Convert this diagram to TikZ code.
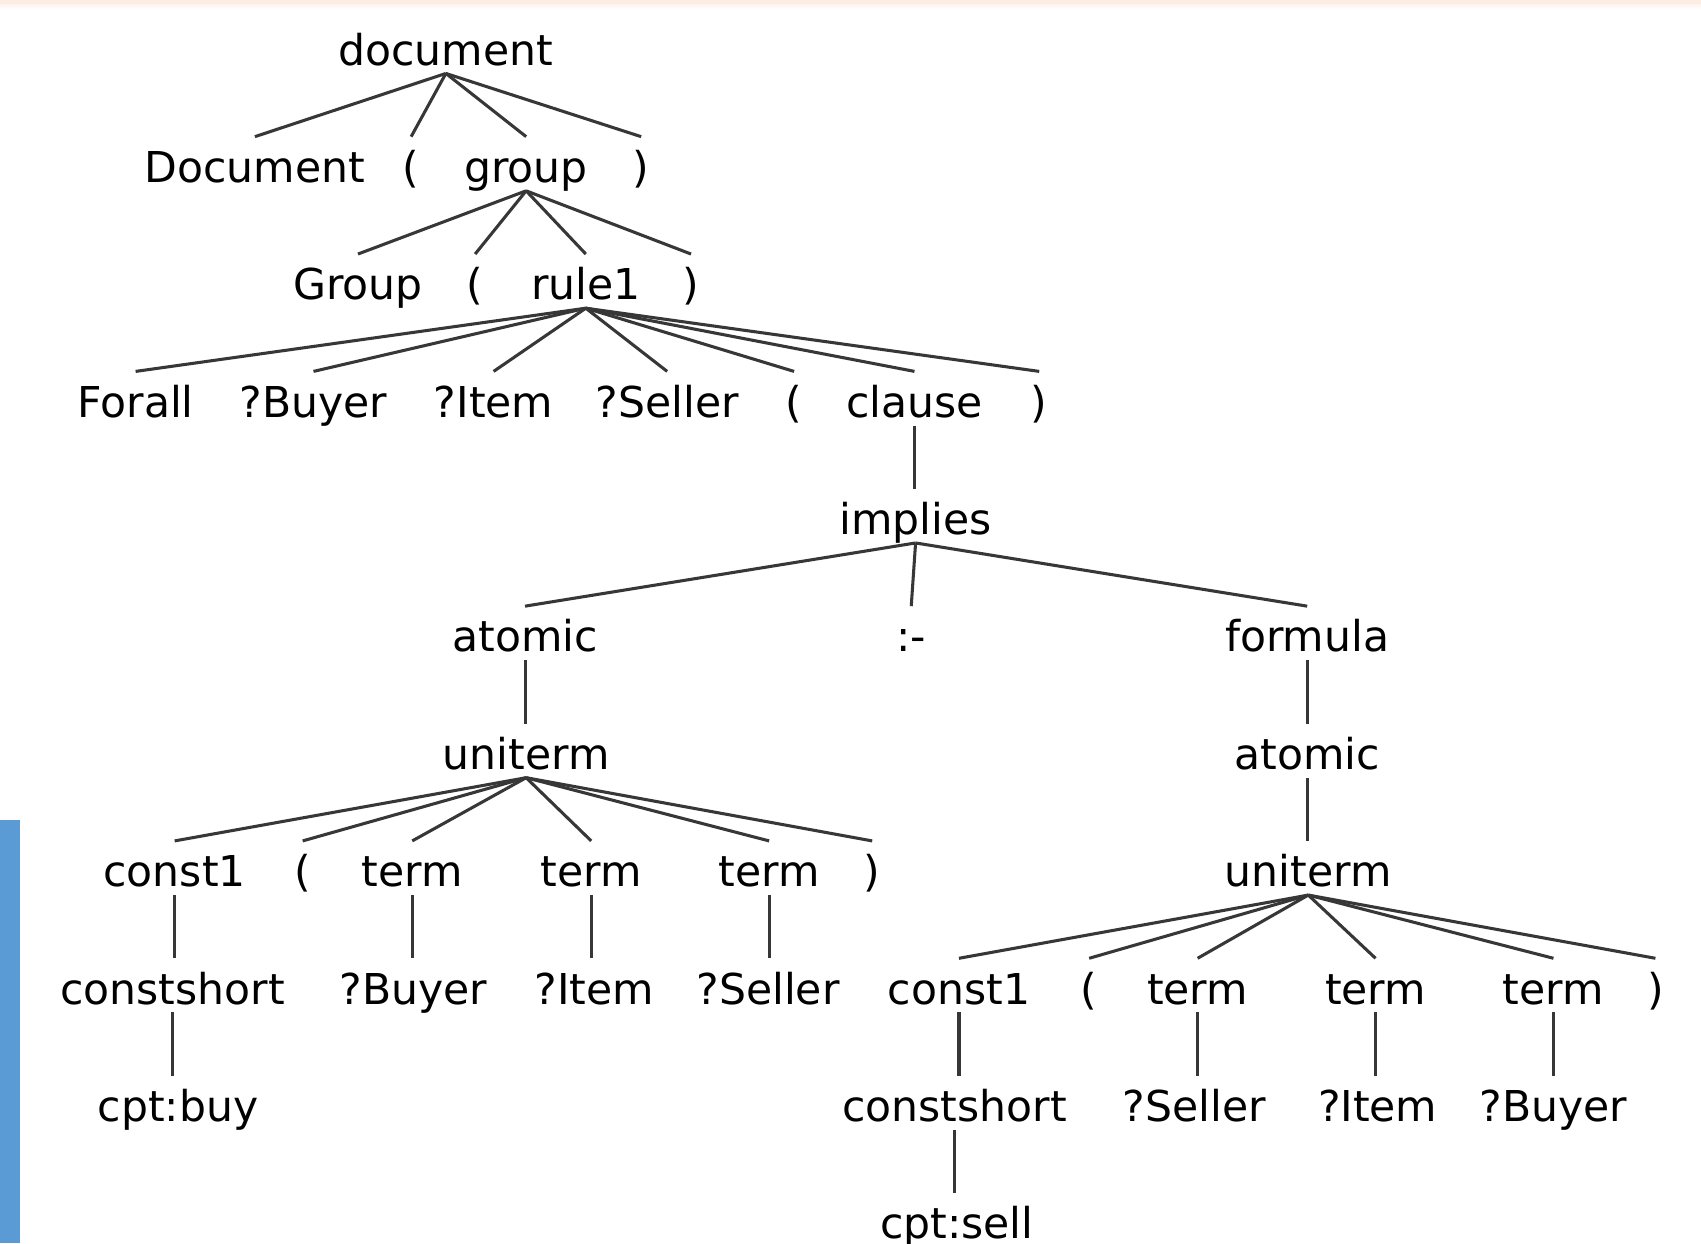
\documentclass[tikz,border=0pt]{standalone}
\usepackage{fontspec}
\setmainfont{DejaVu Sans}
\definecolor{edgegray}{RGB}{55,55,55}
\definecolor{barblue}{RGB}{91,155,213}
\definecolor{topband}{RGB}{253,236,228}
\begin{document}
\begin{tikzpicture}[x=0.01cm,y=-0.01cm,
  lbl/.style={inner sep=0pt, text height=0.415cm, text depth=0.07cm, anchor=base, font=\fontsize{11.15pt}{13pt}\selectfont},
  edge/.style={draw=edgegray, line width=0.8pt}]
\useasboundingbox (0,0) rectangle (1568,1146);
\fill[white] (0,0) rectangle (1568,1146);
\shade[top color=topband, bottom color=white] (0,0) rectangle (1568,9);
\fill[topband] (0,0) rectangle (1568,4);
\fill[barblue] (0,756) rectangle (18,1146);
% row 0
\node[lbl] (doc) at (411,60) {document};
% row 1
\node[lbl] (Doc) at (235,168.2) {Document};
\node[lbl] (lp1) at (379,168.2) {(};
\node[lbl] (grp) at (485,168.2) {group};
\node[lbl] (rp1) at (591,168.2) {)};
% row 2
\node[lbl] (Grp) at (330,276.4) {Group};
\node[lbl] (lp2) at (438,276.4) {(};
\node[lbl] (rule) at (540,276.4) {rule1};
\node[lbl] (rp2) at (637,276.4) {)};
% row 3
\node[lbl] (forall) at (125,384.6) {Forall};
\node[lbl] (buy3) at (289,384.6) {?Buyer};
\node[lbl] (item3) at (455,384.6) {?Item};
\node[lbl] (sell3) at (615,384.6) {?Seller};
\node[lbl] (lp3) at (732,384.6) {(};
\node[lbl] (clause) at (843,384.6) {clause};
\node[lbl] (rp3) at (958,384.6) {)};
% row 4
\node[lbl] (implies) at (844,492.8) {implies};
% row 5
\node[lbl] (atomL) at (484,601) {atomic};
\node[lbl] (neck) at (840,601) {:-};
\node[lbl] (formula) at (1205,601) {formula};
% row 6
\node[lbl] (uniL) at (485,709.2) {uniterm};
\node[lbl] (atomR) at (1205,709.2) {atomic};
% row 7
\node[lbl] (c1L) at (161,817.4) {const1};
\node[lbl] (lp7) at (279,817.4) {(};
\node[lbl] (tL1) at (380,817.4) {term};
\node[lbl] (tL2) at (545,817.4) {term};
\node[lbl] (tL3) at (709,817.4) {term};
\node[lbl] (rp7) at (804,817.4) {)};
\node[lbl] (uniR) at (1206,817.4) {uniterm};
% row 8
\node[lbl] (csL) at (159,925.6) {constshort};
\node[lbl] (bL) at (381,925.6) {?Buyer};
\node[lbl] (iL) at (548,925.6) {?Item};
\node[lbl] (sL) at (708,925.6) {?Seller};
\node[lbl] (c1R) at (884,925.6) {const1};
\node[lbl] (lp8) at (1004,925.6) {(};
\node[lbl] (tR1) at (1104,925.6) {term};
\node[lbl] (tR2) at (1268,925.6) {term};
\node[lbl] (tR3) at (1432,925.6) {term};
\node[lbl] (rp8) at (1526,925.6) {)};
% row 9
\node[lbl] (cbuy) at (164,1033.8) {cpt:buy};
\node[lbl] (csR) at (880,1033.8) {constshort};
\node[lbl] (sR) at (1101,1033.8) {?Seller};
\node[lbl] (iR) at (1270,1033.8) {?Item};
\node[lbl] (bR) at (1432,1033.8) {?Buyer};
% row 10
\node[lbl] (csell) at (882,1142) {cpt:sell};
% fan edges
\foreach \c in {Doc,lp1,grp,rp1} \draw[edge] (doc.south) -- (\c.north);
\foreach \c in {Grp,lp2,rule,rp2} \draw[edge] (grp.south) -- (\c.north);
\foreach \c in {forall,buy3,item3,sell3,lp3,clause,rp3} \draw[edge] (rule.south) -- (\c.north);
\foreach \c in {atomL,neck,formula} \draw[edge] (implies.south) -- (\c.north);
\foreach \c in {c1L,lp7,tL1,tL2,tL3,rp7} \draw[edge] (uniL.south) -- (\c.north);
\foreach \c in {c1R,lp8,tR1,tR2,tR3,rp8} \draw[edge] (uniR.south) -- (\c.north);
% vertical edges
\foreach \p/\c in {clause/implies,atomL/uniL,formula/atomR,atomR/uniR,c1L/csL,tL1/bL,tL2/iL,tL3/sL,csL/cbuy,c1R/csR,tR1/sR,tR2/iR,tR3/bR,csR/csell}
  \draw[edge] (\p.south) -- (\p.south |- \c.north);
\end{tikzpicture}
\end{document}
